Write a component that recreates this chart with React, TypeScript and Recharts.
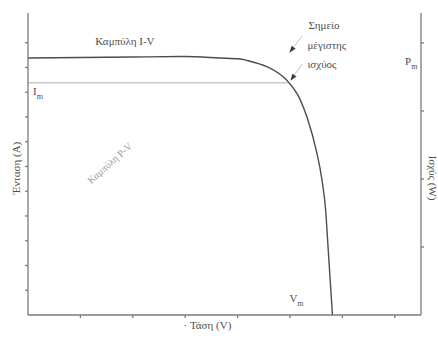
import React from 'react';
import { ComposedChart, Line, XAxis, YAxis, ReferenceLine, ReferenceDot } from 'recharts';

// I-V curve (V in volts, I in amps)
const voltage = [0, 0.1, 0.2, 0.3, 0.366, 0.404, 0.429, 0.461, 0.493, 0.518, 0.533, 0.55, 0.561, 0.568, 0.573, 0.581];
const current = [5.19, 5.2, 5.21, 5.22, 5.19, 5.17, 5.11, 4.99, 4.75, 4.38, 3.98, 3.33, 2.73, 2.12, 1.31, 0];

const voltageTicks = [0.1, 0.2, 0.3, 0.4, 0.5, 0.6, 0.7];
const currentTicks = [0.5, 1, 1.5, 2, 2.5, 3, 3.5, 4, 4.5, 5, 5.5];
const powerTicks = [0.5, 1, 1.5, 2];

const vMax = 0.495;
const iMax = 4.69;
const pMaxMark = 1.86;

const ivLabelPos = { v: 0.185, i: 5.45 };
const pvLabelPos = { v: 0.156, i: 3.07 };

const data = voltage.map((v, k) => ({ v, i: current[k] }));

const FONT = '"Liberation Serif", "DejaVu Serif", serif';
const INK = '#4d4d4d';
const AXIS = '#7a7a7a';

const noLabel = () => <g />;

const Sub = ({ x, y, main, sub, anchor = 'start' }: any) => (
  <text x={x} y={y} fontFamily={FONT} fontSize={11} fill={INK} textAnchor={anchor}>
    {main}
    <tspan fontSize={8} dy={4}>{sub}</tspan>
  </text>
);

const arrow = (x1: number, y1: number, x2: number, y2: number) => {
  const a = Math.atan2(y2 - y1, x2 - x1);
  const L = 7, W = 2.5;
  const bx = x2 - L * Math.cos(a), by = y2 - L * Math.sin(a);
  const px = -Math.sin(a) * W, py = Math.cos(a) * W;
  return (
    <g>
      <line x1={x1} y1={y1} x2={bx} y2={by} stroke="#c4c4c4" strokeWidth={1} />
      <polygon points={`${x2},${y2} ${bx + px},${by + py} ${bx - px},${by - py}`} fill="#3a3a3a" />
    </g>
  );
};

const axisTitle = (text: string, angle: number, dx: number, dy: number) => (props: any) => {
  const vb = props.viewBox || {};
  const cx = vb.x + vb.width / 2 + dx;
  const cy = vb.y + vb.height / 2 + dy;
  return (
    <text x={cx} y={cy} transform={`rotate(${angle}, ${cx}, ${cy})`} textAnchor="middle"
      dominantBaseline="central" fontFamily={FONT} fontSize={11} fill={INK}>
      {text}
    </text>
  );
};

export default function App() {
  return (
    <div style={{ position: 'absolute', left: 0, top: 0, background: '#fff' }}>
      <ComposedChart width={438} height={339} data={data} margin={{ top: 13, right: 0, bottom: 0, left: 0 }}>
        <XAxis dataKey="v" type="number" domain={[0, 0.75]} ticks={voltageTicks} tick={noLabel}
          tickSize={3} height={24} stroke={AXIS} strokeWidth={1.3} allowDataOverflow
          label={{ content: axisTitle('· Τάση (V)', 0, -17, -2) }} />
        <YAxis yAxisId="left" type="number" domain={[0, 6.1]} ticks={currentTicks} tick={noLabel}
          tickSize={3} width={28} stroke={AXIS} strokeWidth={1.3} allowDataOverflow
          label={{ content: axisTitle('Ένταση (A)', -90, 2, 4) }} />
        <YAxis yAxisId="right" orientation="right" type="number" domain={[0, 2.22]} ticks={powerTicks}
          tick={noLabel} tickSize={3} width={17} stroke={AXIS} strokeWidth={1.3} allowDataOverflow
          label={{ content: axisTitle('Ισχύς (W)', 90, 3, 14) }} />

        <ReferenceLine yAxisId="left" segment={[{ x: 0, y: iMax }, { x: vMax, y: iMax }]}
          stroke="#c9c9c9" strokeWidth={1.6} />

        <Line yAxisId="left" type="monotone" dataKey="i" stroke={INK} strokeWidth={1.4}
          dot={false} isAnimationActive={false} />

        <ReferenceDot yAxisId="left" x={ivLabelPos.v} y={ivLabelPos.i} r={1}
          shape={(p: any) => (
            <text x={p.cx} y={p.cy} textAnchor="middle" fontFamily={FONT} fontSize={11} fill={INK}>
              Καμπύλη I-V
            </text>
          )} />
        <ReferenceDot yAxisId="left" x={pvLabelPos.v} y={pvLabelPos.i} r={1}
          shape={(p: any) => (
            <text x={p.cx} y={p.cy} textAnchor="middle" dominantBaseline="central"
              transform={`rotate(-42, ${p.cx}, ${p.cy})`} fontFamily={FONT} fontSize={10} fill="#9a9a9a">
              Καμπύλη P-V
            </text>
          )} />
        <ReferenceDot yAxisId="left" x={vMax} y={iMax} r={1}
          shape={(p: any) => (
            <g>
              <text x={p.cx + 21} y={p.cy - 54} fontFamily={FONT} fontSize={11} fill={INK}>Σημείο</text>
              <text x={p.cx + 20} y={p.cy - 34} fontFamily={FONT} fontSize={11} fill={INK}>μέγιστης</text>
              <text x={p.cx + 20} y={p.cy - 15} fontFamily={FONT} fontSize={11} fill={INK}>ισχύος</text>
              {arrow(p.cx + 15, p.cy - 47, p.cx + 2, p.cy - 30)}
              {arrow(p.cx + 15, p.cy - 19, p.cx + 3, p.cy - 2)}
            </g>
          )} />
        <ReferenceDot yAxisId="left" x={0} y={iMax} r={1}
          shape={(p: any) => <Sub x={p.cx + 5} y={p.cy + 12} main="I" sub="m" />} />
        <ReferenceDot yAxisId="left" x={vMax} y={0} r={1}
          shape={(p: any) => <Sub x={p.cx + 2} y={p.cy - 13} main="V" sub="m" />} />
        <ReferenceDot yAxisId="right" x={0.75} y={pMaxMark} r={1}
          shape={(p: any) => <Sub x={p.cx - 16} y={p.cy + 3} main="P" sub="m" />} />
      </ComposedChart>
    </div>
  );
}
